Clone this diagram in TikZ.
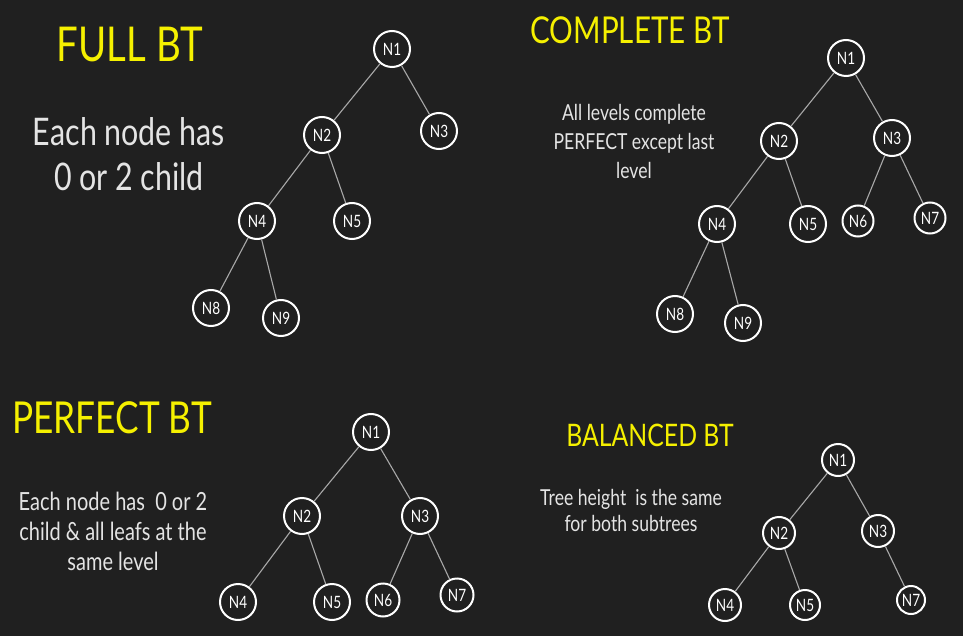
\documentclass[tikz,border=0pt]{standalone}
\usepackage{fontspec}
\setmainfont{Lato}[FakeStretch=0.8]
\usetikzlibrary{positioning}
\definecolor{bgdark}{HTML}{202020}
\definecolor{titleyellow}{HTML}{F5F000}
\definecolor{notegray}{HTML}{E4E4E4}
\definecolor{edgegray}{HTML}{A8A8A8}
\tikzstyle{treenode} = [circle, draw=white, line width=2pt, minimum size=36pt,
    inner sep=0pt, text=white, font=\fontsize{17}{17}\selectfont]
\tikzstyle{edge} = [draw=edgegray, line width=1.1pt]
\tikzstyle{title} = [text=titleyellow, align=center]
\tikzstyle{note} = [text=notegray, align=center]

\begin{document}
\begin{tikzpicture}[x=1pt, y=-1pt, node distance=85pt]
    \fill [bgdark] (0,0) rectangle (963,636);
    \useasboundingbox (0,0) rectangle (963,636);

    % full tree
    \node (FullTitle) [title, font=\fontsize{48}{48}\selectfont] at (130,45) {FULL BT};
    \node (FullNote) [note, font=\fontsize{38}{45}\selectfont] at (129,154) {Each node has\\0 or 2 child};
    \node (FullN1) [treenode] at (392,49) {N1};
    \node (FullN2) [treenode, below of=FullN1, xshift=-70pt, yshift=-1pt] {N2};
    \node (FullN3) [treenode, below of=FullN1, xshift=47pt, yshift=3pt] {N3};
    \node (FullN4) [treenode, below of=FullN2, xshift=-65pt, yshift=-1pt] {N4};
    \node (FullN5) [treenode, below of=FullN2, xshift=30pt, yshift=-1pt] {N5};
    \node (FullN8) [treenode, below of=FullN4, xshift=-46pt, yshift=-2pt] {N8};
    \node (FullN9) [treenode, below of=FullN4, xshift=24pt, yshift=-12pt] {N9};
    \draw [edge] (FullN1) -- (FullN2);
    \draw [edge] (FullN1) -- (FullN3);
    \draw [edge] (FullN2) -- (FullN4);
    \draw [edge] (FullN2) -- (FullN5);
    \draw [edge] (FullN4) -- (FullN8);
    \draw [edge] (FullN4) -- (FullN9);

    % complete tree
    \node (CompTitle) [title, font=\fontsize{37}{37}\selectfont] at (630,30) {COMPLETE BT};
    \node (CompNote) [note, font=\fontsize{22}{29}\selectfont] at (634,141) {All levels complete\\PERFECT except last\\level};
    \node (CompN1) [treenode] at (846,58) {N1};
    \node (CompN2) [treenode, below of=CompN1, xshift=-67pt, yshift=2pt] {N2};
    \node (CompN3) [treenode, below of=CompN1, xshift=46pt, yshift=5pt] {N3};
    \node (CompN4) [treenode, below of=CompN2, xshift=-62pt, yshift=2pt] {N4};
    \node (CompN5) [treenode, below of=CompN2, xshift=29pt, yshift=2pt] {N5};
    \node (CompN6) [treenode, minimum size=31pt, below of=CompN3, xshift=-34pt, yshift=2pt] {N6};
    \node (CompN7) [treenode, minimum size=31pt, below of=CompN3, xshift=38pt, yshift=5pt] {N7};
    \node (CompN8) [treenode, below of=CompN4, xshift=-42pt, yshift=-5pt] {N8};
    \node (CompN9) [treenode, below of=CompN4, xshift=26pt, yshift=-14pt] {N9};
    \draw [edge] (CompN1) -- (CompN2);
    \draw [edge] (CompN1) -- (CompN3);
    \draw [edge] (CompN2) -- (CompN4);
    \draw [edge] (CompN2) -- (CompN5);
    \draw [edge] (CompN3) -- (CompN6);
    \draw [edge] (CompN3) -- (CompN7);
    \draw [edge] (CompN4) -- (CompN8);
    \draw [edge] (CompN4) -- (CompN9);

    % perfect tree
    \node (PerfTitle) [title, font=\fontsize{44}{44}\selectfont] at (112,418) {PERFECT BT};
    \node (PerfNote) [note, font=\fontsize{25}{30}\selectfont] at (113,531) {Each node has\ \ 0 or 2\\child \& all leafs at the\\same level};
    \node (PerfN1) [treenode] at (371,432) {N1};
    \node (PerfN2) [treenode, below of=PerfN1, xshift=-69pt, yshift=1pt] {N2};
    \node (PerfN3) [treenode, below of=PerfN1, xshift=49pt, yshift=1pt] {N3};
    \node (PerfN4) [treenode, below of=PerfN2, xshift=-64pt, yshift=-1pt] {N4};
    \node (PerfN5) [treenode, below of=PerfN2, xshift=30pt, yshift=-1pt] {N5};
    \node (PerfN6) [treenode, minimum size=33pt, below of=PerfN3, xshift=-37pt, yshift=1pt] {N6};
    \node (PerfN7) [treenode, minimum size=33pt, below of=PerfN3, xshift=37pt, yshift=6pt] {N7};
    \draw [edge] (PerfN1) -- (PerfN2);
    \draw [edge] (PerfN1) -- (PerfN3);
    \draw [edge] (PerfN2) -- (PerfN4);
    \draw [edge] (PerfN2) -- (PerfN5);
    \draw [edge] (PerfN3) -- (PerfN6);
    \draw [edge] (PerfN3) -- (PerfN7);

    % balanced tree
    \begin{scope}[node distance=72pt]
    \node (BalTitle) [title, font=\fontsize{31}{31}\selectfont] at (650,435) {BALANCED BT};
    \node (BalNote) [note, font=\fontsize{22}{26}\selectfont] at (631,510) {Tree height\ \ is the same\\for both subtrees};
    \node (BalN1) [treenode, minimum size=32pt] at (838,460) {N1};
    \node (BalN2) [treenode, minimum size=32pt, below of=BalN1, xshift=-59pt, yshift=-1pt] {N2};
    \node (BalN3) [treenode, minimum size=32pt, below of=BalN1, xshift=40pt, yshift=1pt] {N3};
    \node (BalN4) [treenode, minimum size=32pt, below of=BalN2, xshift=-54pt] {N4};
    \node (BalN5) [treenode, minimum size=30pt, below of=BalN2, xshift=26pt] {N5};
    \node (BalN7) [treenode, minimum size=28pt, below of=BalN3, xshift=33pt, yshift=3pt] {N7};
    \end{scope}
    \draw [edge] (BalN1) -- (BalN2);
    \draw [edge] (BalN1) -- (BalN3);
    \draw [edge] (BalN2) -- (BalN4);
    \draw [edge] (BalN2) -- (BalN5);
    \draw [edge] (BalN3) -- (BalN7);
\end{tikzpicture}
\end{document}
